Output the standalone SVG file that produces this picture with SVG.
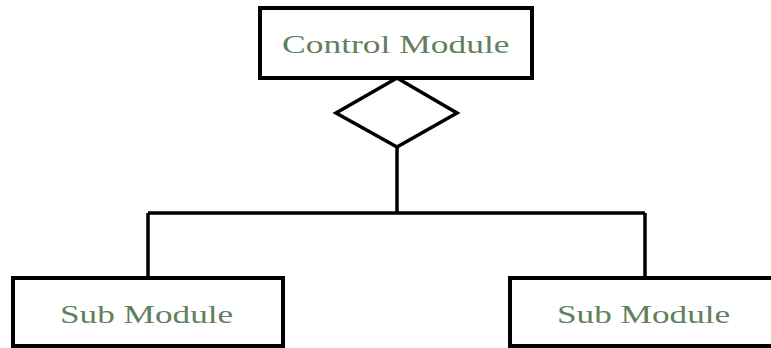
<svg xmlns="http://www.w3.org/2000/svg" width="771" height="348" viewBox="0 0 771 348">
  <style>
    .box { fill: #ffffff; stroke: #000000; stroke-width: 4; }
    .link { fill: none; stroke: #000000; stroke-width: 3.5; stroke-linejoin: miter; }
    .label { font-family: "Liberation Serif", "Times New Roman", serif; font-size: 26px; fill: #62805e; }
  </style>
  <rect width="771" height="348" fill="#ffffff"/>

  <!-- connectors: aggregation diamond, trunk and branches -->
  <g id="connectors">
    <polygon class="link" points="397,78 457,113 397,147 336,113"/>
    <path class="link" d="M397,147 V213 M148,213 H645 M148,213 V278 M645,213 V278"/>
  </g>

  <!-- labels are set in a horizontally widened serif -->
  <g id="control-module">
    <rect class="box" x="260" y="8" width="272" height="70"/>
    <text class="label" transform="translate(282,53) scale(1.365,1)">Control Module</text>
  </g>

  <g id="sub-module-left">
    <rect class="box" x="13" y="278" width="270" height="68"/>
    <text class="label" transform="translate(60,323) scale(1.355,1)">Sub Module</text>
  </g>

  <g id="sub-module-right">
    <rect class="box" x="510" y="278" width="270" height="68"/>
    <text class="label" transform="translate(557,323) scale(1.355,1)">Sub Module</text>
  </g>
</svg>
